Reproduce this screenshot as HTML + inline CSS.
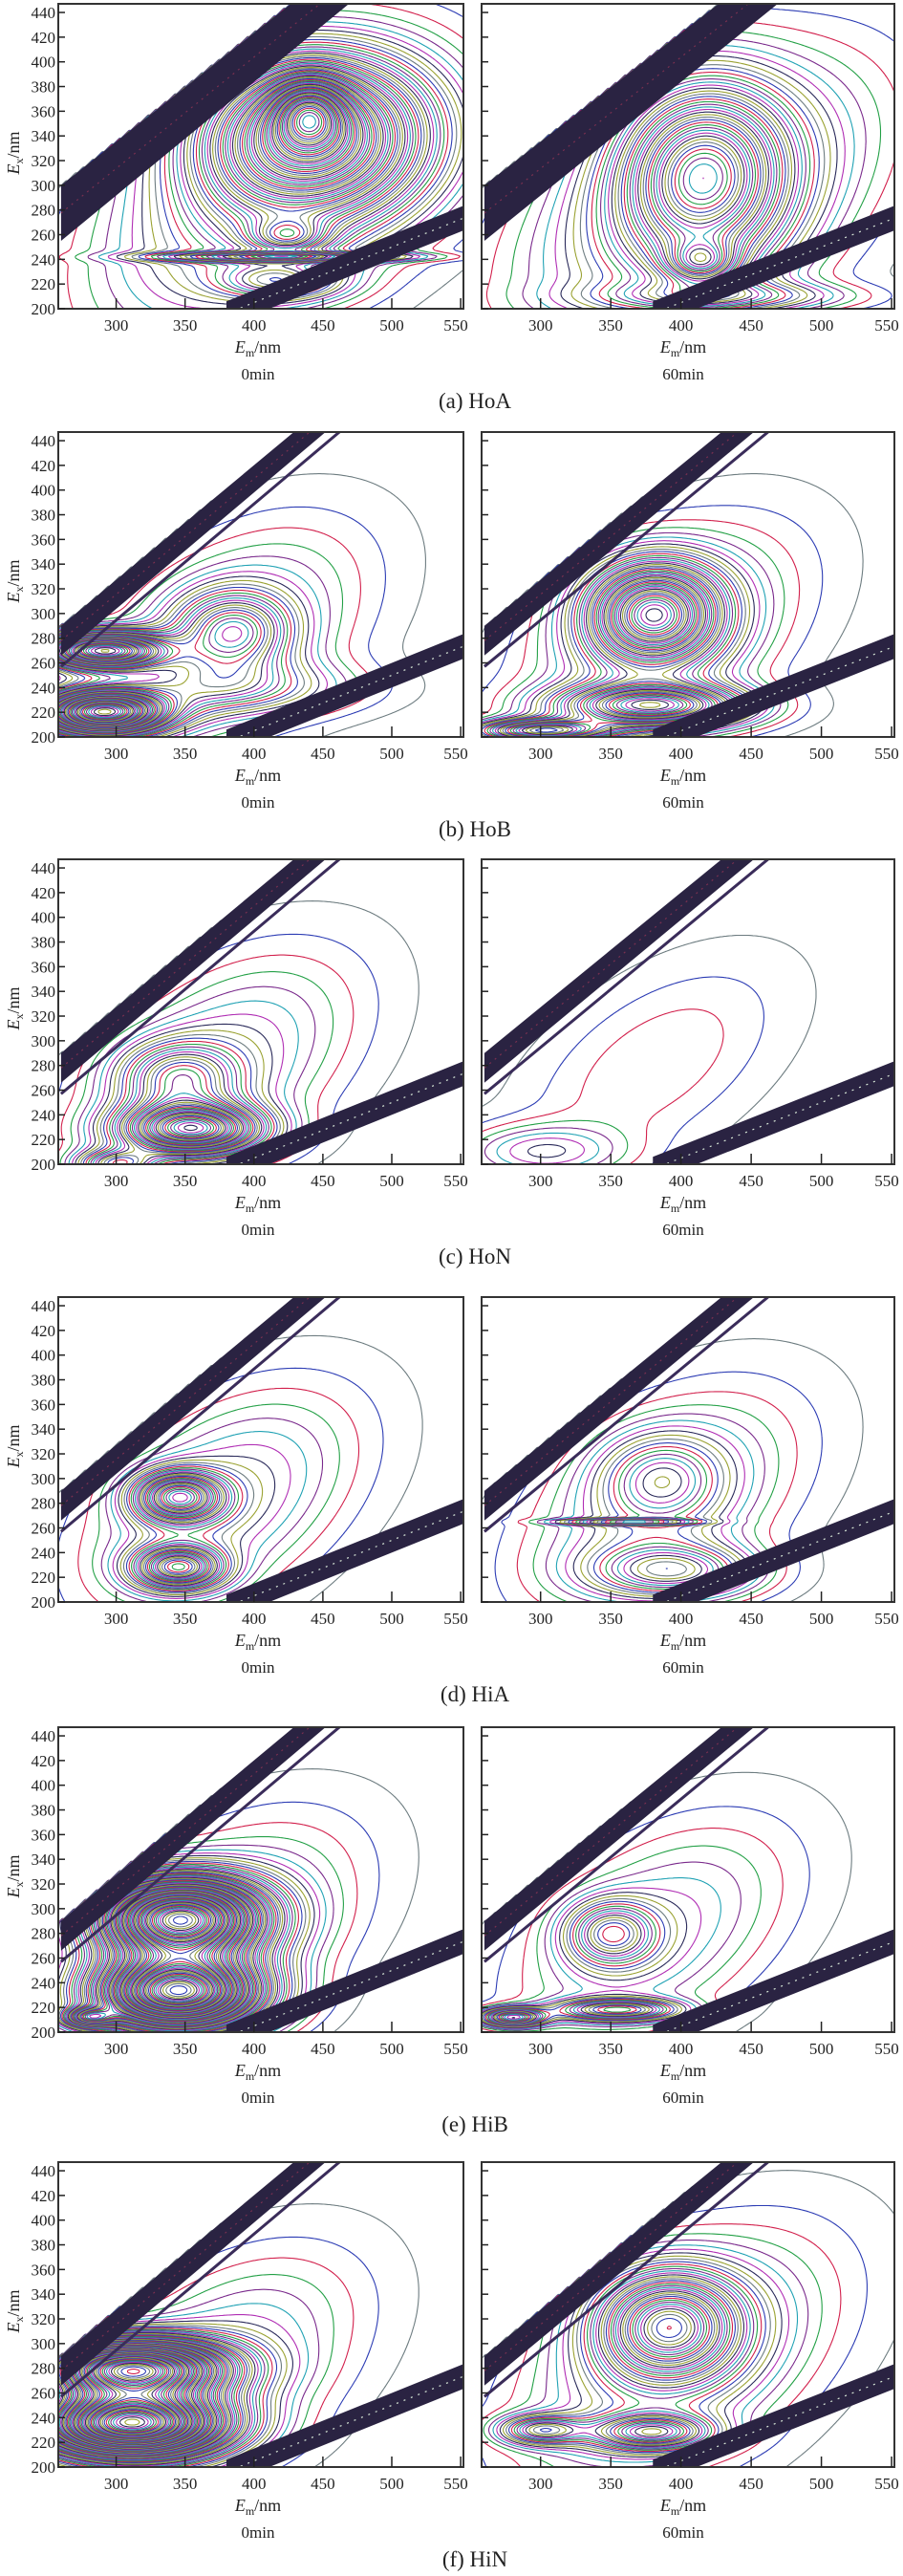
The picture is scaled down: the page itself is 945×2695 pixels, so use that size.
<!DOCTYPE html>
<html><head><meta charset="utf-8">
<style>
html,body{margin:0;padding:0;background:#fff;}
svg{display:block;font-family:"Liberation Serif",serif;}
</style></head>
<body>
<svg id="fig" width="945" height="2695" viewBox="0 0 945 2695" xmlns="http://www.w3.org/2000/svg"></svg>
<script>
// ---- data ----
const rowLabels = ['(a) HoA','(b) HoB','(c) HoN','(d) HiA','(e) HiB','(f) HiN'];
const timeLabels = ['0min','60min'];
const yTicks = [200,220,240,260,280,300,320,340,360,380,400,420,440];
const xTicks = [300,350,400,450,500,550];
// peaks: [Em, Ex, amplitude, sigmaA, sigmaB, rotationDeg]
const peaksA0 = [[440,360,1.2,18,20],[440,340,2.6,55,42],[410,290,0.8,95,55,40],[420,242,1.0,60,2.5],[425,258,0.8,20,10],[420,222,0.7,30,10]];
const peaksA1 = [[415,310,1.8,40,50],[415,237,0.9,18,12],[410,285,0.8,95,55,40],[430,210,0.6,60,8]];
const peaksB0 = [[385,285,1.0,28,22],[290,270,2.5,30,10],[290,220,3.0,30,12],[380,240,0.6,60,15],[380,280,0.5,75,45,40]];
const peaksB1 = [[380,300,2.2,32,28],[380,225,1.8,45,12],[300,205,1.5,30,6],[385,280,0.5,75,45,40]];
const peaksC0 = [[355,228,2.2,35,14],[345,270,0.9,30,20],[375,280,0.5,75,45,40],[300,200,1.0,20,8]];
const peaksC1 = [[300,210,0.4,40,15],[380,280,0.22,75,40,40]];
const peaksD0 = [[345,285,1.6,22,14],[345,228,1.5,22,12],[375,280,0.55,75,45,40]];
const peaksD1 = [[385,300,0.6,30,25],[395,225,0.9,40,15],[360,265,0.9,30,1.5],[385,280,0.5,75,45,40]];
const peaksE0 = [[345,292,4.0,40,22],[345,232,4.0,40,20],[280,212,1.2,12,5],[375,280,0.5,75,45,40]];
const peaksE1 = [[350,280,0.9,22,18],[355,218,1.1,30,6],[280,212,1.4,15,5],[380,280,0.45,75,45,40]];
const peaksF0 = [[310,280,4.0,45,16],[310,235,4.5,45,18],[375,280,0.5,75,45,40]];
const peaksF1 = [[390,315,1.8,35,30],[380,228,1.2,30,10],[300,230,0.9,20,8],[395,285,0.6,85,50,40]];
const panelPeaks = [[peaksA0,peaksA1],[peaksB0,peaksB1],[peaksC0,peaksC1],[peaksD0,peaksD1],[peaksE0,peaksE1],[peaksF0,peaksF1]];

const colors = ['#6d7c80','#2c3cb4','#d2204c','#23a046','#7a2a8c','#20a2b4','#b02eb4','#2a2a5a','#9aa232'];
const NS = 'http://www.w3.org/2000/svg';
const svg = document.getElementById('fig');
const EM0 = 258, EM1 = 552, EX0 = 200, EX1 = 447;
const rowTops = [4, 452, 899, 1357, 1807, 2262];
const PH = 319;

function mk(tag, attrs, parent){
  const e = document.createElementNS(NS, tag);
  for (const k in attrs) e.setAttribute(k, attrs[k]);
  (parent||svg).appendChild(e);
  return e;
}
function field(peaks, em, ex, upper){
  if (ex > upper(em)) return 0;
  let v = 0;
  for (const p of peaks){
    let dx=em-p[0], dy=ex-p[1];
    if (p[5]){
      const t=p[5]*Math.PI/180, c=Math.cos(t), s=Math.sin(t);
      const u=dx*c+dy*s, w=-dx*s+dy*c; dx=u; dy=w;
    }
    const a=dx/p[3], b=dy/p[4];
    v += p[2]*Math.exp(-0.5*(a*a+b*b));
  }
  return v;
}
const SEG = {1:[[3,2]],2:[[2,1]],3:[[3,1]],4:[[0,1]],5:[[3,0],[2,1]],6:[[0,2]],7:[[3,0]],8:[[3,0]],9:[[0,2]],10:[[0,1],[3,2]],11:[[0,1]],12:[[3,1]],13:[[2,1]],14:[[3,2]]};

function drawPanel(r, c, peaks){
  const top = rowTops[r] - 4;
  const x0 = c===0 ? 61 : 504, w = c===0 ? 424 : 432;
  const y0 = rowTops[r], h = PH;
  const sx = em => x0 + (em-EM0)/(EM1-EM0)*w;
  const sy = ex => y0 + h - (ex-EX0)/(EX1-EX0)*h;
  const bU = r===0 ? [[260,300],[428,448]] : [[260,290],[430,448]];
  const bL = r===0 ? [[260,255],[470,448]] : [[260,266],[453,448]];
  const upper = em => bU[0][1] + (em-bU[0][0])*(bU[1][1]-bU[0][1])/(bU[1][0]-bU[0][0]);
  const g = mk('g', {});
  
  
  const cid = 'clip'+r+'_'+c;
  const cp = mk('clipPath', {id:cid}, g);
  mk('rect', {x:x0, y:y0, width:w, height:h}, cp);
  const cg = mk('g', {'clip-path':'url(#'+cid+')'}, g);
  const cs = 2, nx = Math.ceil(w/cs), ny = Math.ceil(h/cs);
  const V = new Float32Array((nx+1)*(ny+1));
  for (let j=0;j<=ny;j++) for (let i=0;i<=nx;i++){
    const px=x0+i*cs, py=y0+j*cs;
    const em = EM0+(px-x0)/w*(EM1-EM0), ex = EX0+(y0+h-py)/h*(EX1-EX0);
    V[j*(nx+1)+i] = field(peaks, em, ex, upper);
  }
  let vmax = 0; for (const v of V) if (v>vmax) vmax=v;
  for (let k=0;;k++){
    const L = 0.04 + 0.06*k;
    if (L > vmax) break;
    let d = '';
    for (let j=0;j<ny;j++) for (let i=0;i<nx;i++){
      const tl=V[j*(nx+1)+i], tr=V[j*(nx+1)+i+1], bl=V[(j+1)*(nx+1)+i], br=V[(j+1)*(nx+1)+i+1];
      const cse=(tl>=L?8:0)|(tr>=L?4:0)|(br>=L?2:0)|(bl>=L?1:0);
      if (cse===0||cse===15) continue;
      const X=x0+i*cs, Y=y0+j*cs;
      const pt = e => {
        if (e===0){const t=(L-tl)/(tr-tl);return [X+t*cs,Y];}
        if (e===1){const t=(L-tr)/(br-tr);return [X+cs,Y+t*cs];}
        if (e===2){const t=(L-bl)/(br-bl);return [X+t*cs,Y+cs];}
        const t=(L-tl)/(bl-tl);return [X,Y+t*cs];
      };
      for (const s of SEG[cse]){
        const a=pt(s[0]), b=pt(s[1]);
        d += 'M'+a[0].toFixed(1)+' '+a[1].toFixed(1)+'L'+b[0].toFixed(1)+' '+b[1].toFixed(1);
      }
    }
    if (d){
      const p = mk('path', {d:d, fill:'none', stroke:colors[k%colors.length], 'stroke-width':1.1}, cg);
      
      
    }
  }
  const b1 = mk('polygon', {points:[bU[0],bU[1],bL[1],bL[0]].map(q=>sx(q[0])+','+sy(q[1])).join(' '), fill:'#2a2342'}, cg);
  
  
  if (r>0){
    const bl2 = mk('polyline', {points:[[260,257],[463,448]].map(q=>sx(q[0])+','+sy(q[1])).join(' '), fill:'none', stroke:'#3a2c5a', 'stroke-width':3}, cg);
    
    
  }
  mk('polyline', {points:[[bU[0][0],(bU[0][1]+bL[0][1])/2],[(bU[1][0]+bL[1][0])/2,448]].map(q=>sx(q[0])+','+sy(q[1])).join(' '), fill:'none', stroke:'#7a3050', 'stroke-width':1.2, 'stroke-dasharray':'2 5'}, cg);
  const hw = 10;
  const cen = em => 205 + (em-400)*0.45;
  const b2 = mk('polygon', {points:[[380,cen(380)+hw],[560,cen(560)+hw],[560,cen(560)-hw],[380,cen(380)-hw]].map(q=>sx(q[0])+','+sy(q[1])).join(' '), fill:'#2a2342'}, cg);
  
  
  mk('polyline', {points:[[380,cen(380)],[560,cen(560)]].map(q=>sx(q[0])+','+sy(q[1])).join(' '), fill:'none', stroke:'#d8e8d8', 'stroke-width':1.2, 'stroke-dasharray':'2 6'}, cg);
  const fr = mk('rect', {x:x0, y:y0, width:w, height:h, fill:'none', stroke:'#333', 'stroke-width':2}, g);
  
  
  for (const t of yTicks){
    mk('line', {x1:x0, x2:x0+7, y1:sy(t), y2:sy(t), stroke:'#222', 'stroke-width':1.5}, g);
    if (c===0){
      const tx = mk('text', {x:x0-3, y:sy(t)+6, 'font-size':17, 'text-anchor':'end', fill:'#222'}, g);
      tx.textContent = t;
      
      
    }
  }
  for (const t of xTicks){
    mk('line', {x1:sx(t), x2:sx(t), y1:y0+h, y2:y0+h-11, stroke:'#222', 'stroke-width':1.5}, g);
    const tx = mk('text', {x:Math.min(sx(t), x0+w-8), y:top+346, 'font-size':17, 'text-anchor':'middle', fill:'#222'}, g);
    tx.textContent = t;
    
    
  }
  const cx = c===0 ? 270 : 715;
  const xl = mk('text', {x:cx, y:top+369, 'font-size':18, 'text-anchor':'middle', fill:'#222'}, g);
  xl.innerHTML = '<tspan font-style="italic">E</tspan><tspan font-size="12" dy="4">m</tspan><tspan dy="-4">/nm</tspan>';
  
  
  const tl = mk('text', {x:cx, y:top+397, 'font-size':17, 'text-anchor':'middle', fill:'#222'}, g);
  tl.textContent = timeLabels[c];
  
  
  if (c===0){
    const yl = mk('text', {x:0, y:0, 'font-size':18, 'text-anchor':'middle', fill:'#222', transform:'translate(20,'+(top+160)+') rotate(-90)'}, g);
    yl.innerHTML = '<tspan font-style="italic">E</tspan><tspan font-size="12" dy="4">x</tspan><tspan dy="-4">/nm</tspan>';
    
    
  }
}

for (let r=0;r<6;r++){
  for (let c=0;c<2;c++) drawPanel(r, c, panelPeaks[r][c]);
  const rl = mk('text', {x:497, y:rowTops[r]-4+427, 'font-size':23, 'text-anchor':'middle', fill:'#222'});
  rl.textContent = rowLabels[r];
  
  
}
</script>
</body></html>
